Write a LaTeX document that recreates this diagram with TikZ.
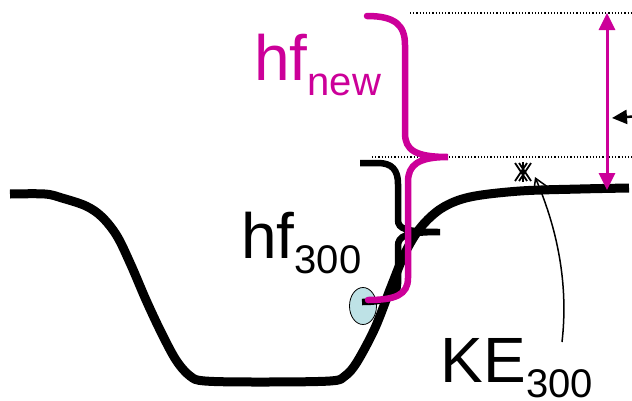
\documentclass[tikz,border=0pt]{standalone}
\usepackage{fontspec}
\setmainfont{Liberation Sans}
\usetikzlibrary{arrows.meta,calc,shapes.geometric}
\definecolor{mag}{RGB}{204,0,153}
\definecolor{cave}{RGB}{190,226,230}
\tikzset{
  ground/.style={line width=9pt, line join=round},
  blackbrace/.style={line width=6.5pt},
  magbrace/.style={line width=6.5pt, draw=mag, line cap=round},
  dotline/.style={line width=1.3pt, dash pattern=on 1.2pt off 2pt},
  marker/.style={line width=1.8pt},
  label/.style={inner sep=0pt, anchor=base west},
  big/.style={font=\fontsize{64}{64}\selectfont},
}
\newcommand{\subtxt}[1]{\raisebox{-15pt}{\fontsize{40}{40}\selectfont #1}}
\begin{document}
\begin{tikzpicture}[x=1pt,y=-1pt]
\useasboundingbox (0,0) rectangle (632,400);
\clip (0,0) rectangle (632,400);
% dotted levels
\coordinate (dt1) at (410,13);
\coordinate (dt2) at (632,13);
\coordinate (dm1) at (372,157);
\coordinate (dm2) at (632,157);
\draw[dotline] (dt1) -- (dt2);
\draw[dotline] (dm1) -- (dm2);
% cave ellipse
\node[draw, fill=cave, line width=0.8pt, ellipse, minimum width=27pt, minimum height=37pt, inner sep=0pt] (cav) at (363,306) {};
% ground
\draw[ground] plot[smooth, tension=0.55] coordinates {(10,194) (45,194) (62,198) (86,206) (102,217) (117,236) (131,265) (146,300) (161,332) (176,360) (190,376) (205,381) (260,382) (330,381) (345,376) (357,362) (375,328) (391,287) (405,253) (421,227) (442,208) (470,197) (520,191) (580,189) (629,188)};
% black brace hf300
\draw[blackbrace] (360,163) -- (378,163) .. controls (392,163) and (398,170) .. (398,184) -- (398,220) .. controls (398,229) and (406,232) .. (440,232) .. controls (406,232) and (398,236) .. (398,246) -- (398,284) .. controls (398,297) and (386,302) .. (362,302);
% magenta brace hf_new
\draw[magbrace] (367,16) .. controls (395,16) and (405,25) .. (405,45) -- (405,133) .. controls (405,150) and (415,157) .. (448,157) .. controls (418,157) and (408,165) .. (408,182) -- (408,278) .. controls (408,295) and (395,300) .. (368,300);
% magenta double arrow
\coordinate (at) at (607,13);
\coordinate (ab) at (607,190);
\draw[mag, line width=3pt, {Triangle[length=17pt,width=16pt]}-{Triangle[length=17pt,width=16pt]}] (at) -- (ab);
% black arrow from right
\coordinate (ra) at (640,116);
\coordinate (rt) at (612,118);
\draw[line width=2.5pt, -{Triangle[length=15pt,width=14pt]}] (ra) -- (rt);
% KE marker
\coordinate (mk) at (523,172);
\draw[marker] ($(mk)+(-8,-9)$) -- ($(mk)+(4,9)$);
\draw[marker] ($(mk)+(-8,9)$) -- ($(mk)+(4,-9)$);
\draw[marker] ($(mk)+(-4,-9)$) -- ($(mk)+(8,9)$);
\draw[marker] ($(mk)+(-4,9)$) -- ($(mk)+(8,-9)$);
\draw[marker] ($(mk)+(0,-10)$) -- ($(mk)+(0,10)$);
% texts
\node[label, big, text=mag] (hfn) at (254,80) {hf\subtxt{new}};
\node[label, big] (hf3) at (241,258) {hf\subtxt{300}};
\node[label, big] (ke) at (440.5,382) {KE\subtxt{300}};
% KE pointer
\coordinate (kp) at (562,342);
\coordinate (kt) at (535,177);
\draw[line width=1.5pt, -{Straight Barb[length=14pt,width=17pt]}] (kp) .. controls (568,290) and (560,235) .. (kt);
\end{tikzpicture}
\end{document}
